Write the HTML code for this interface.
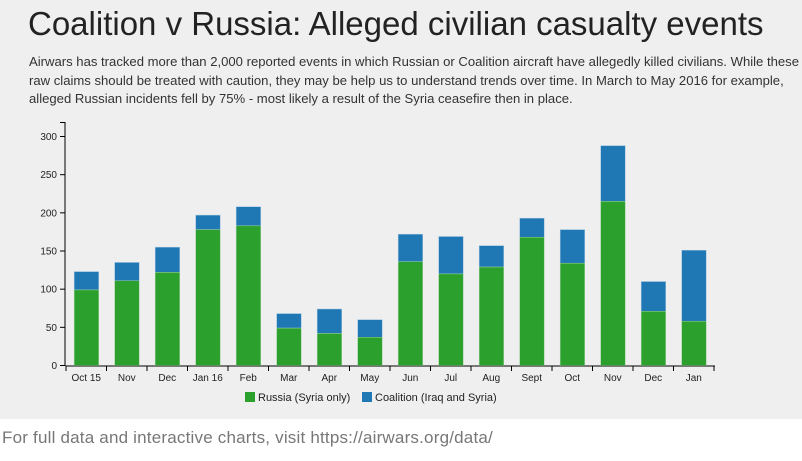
<!DOCTYPE html>
<html><head><meta charset="utf-8"><style>
body{margin:0;width:802px;height:461px;background:#fff;overflow:hidden;font-family:"Liberation Sans",sans-serif}
#g{position:absolute;left:0;top:0;width:802px;height:419px;background:#efefef}
h1{position:absolute;left:28px;top:5px;margin:0;font-weight:normal;font-size:33px;color:#222;white-space:nowrap}
p{position:absolute;left:29px;top:53px;margin:0;width:775px;font-size:13.1px;line-height:18.7px;color:#333}
#f{position:absolute;left:2px;top:428px;font-size:17px;letter-spacing:0.2px;color:#777;white-space:nowrap}
svg{position:absolute;left:0;top:0}
</style></head><body>
<div id="g"></div>
<h1>Coalition v Russia: Alleged civilian casualty events</h1>
<p>Airwars has tracked more than 2,000 reported events in which Russian or Coalition aircraft have allegedly killed civilians. While these raw claims should be treated with caution, they may be help us to understand trends over time. In March to May 2016 for example, alleged Russian incidents fell by 75% - most likely a result of the Syria ceasefire then in place.</p>
<svg width="802" height="419" id="c" font-family="Liberation Sans, sans-serif"></svg>
<div id="f">For full data and interactive charts, visit https://airwars.org/data/</div>
<script>
var d=[["Oct 15",123,99],["Nov",135,111],["Dec",155,122],["Jan 16",197,178],["Feb",208,183],["Mar",68,49],["Apr",74,42],["May",60,37],["Jun",172,136],["Jul",169,120],["Aug",157,129],["Sept",193,168],["Oct",178,134],["Nov",288,215],["Dec",110,71],["Jan",151,58]];
var s='',y0=365.5,k=0.7633,x0=66,bw=40.5;
for(var v=0;v<=300;v+=50){var y=y0-v*k;s+='<line x1="60" x2="65" y1="'+y+'" y2="'+y+'" stroke="#000"/><text x="57" y="'+(y+3.5)+'" font-size="10" text-anchor="end" fill="#222">'+v+'</text>';}
s+='<line x1="65" x2="65" y1="122" y2="366" stroke="#000"/><line x1="60" x2="65" y1="122.5" y2="122.5" stroke="#000"/>';
s+='<line x1="65.5" x2="715" y1="366" y2="366" stroke="#000"/>';
d.forEach(function(r,i){var bx=x0+i*bw+8.2,t=y0-r[1]*k,g=y0-r[2]*k;
s+='<rect x="'+bx+'" y="'+t+'" width="24.5" height="'+(g-t)+'" fill="#1f77b4" stroke="#9cc3e0" stroke-width="0.5"/>';
s+='<rect x="'+bx+'" y="'+g+'" width="24.5" height="'+(y0-g)+'" fill="#2ca02c" stroke="#9cd09c" stroke-width="0.5"/>';
s+='<text x="'+(x0+i*bw+bw/2)+'" y="381" font-size="10" text-anchor="middle" fill="#222">'+r[0]+'</text>';
var tx=x0+(i+1)*bw;s+='<line x1="'+tx+'" x2="'+tx+'" y1="366" y2="371" stroke="#000"/>';});
s+='<line x1="66" x2="66" y1="366" y2="371" stroke="#000"/>';
s+='<rect x="245" y="392" width="10" height="10" fill="#2ca02c"/><text x="258" y="401" font-size="11" fill="#222">Russia (Syria only)</text>';
s+='<rect x="362" y="392" width="10" height="10" fill="#1f77b4"/><text x="375" y="401" font-size="11" fill="#222">Coalition (Iraq and Syria)</text>';
document.getElementById('c').innerHTML=s;
</script>
</body></html>
